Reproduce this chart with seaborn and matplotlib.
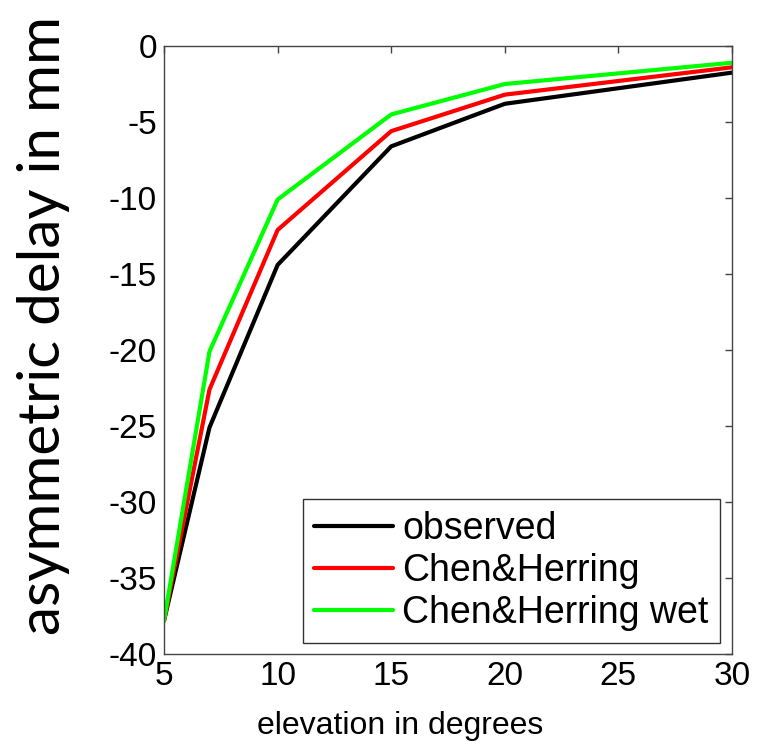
import numpy as np
import pandas as pd
import matplotlib
matplotlib.use("Agg")
import matplotlib.pyplot as plt
import seaborn as sns

# elevation angles (degrees) and asymmetric delays (mm)
elevation = [5, 7, 10, 15, 20, 30]
observed = [-37.8, -25.1, -14.4, -6.6, -3.8, -1.75]
chen_herring = [-37.8, -22.6, -12.1, -5.6, -3.2, -1.4]
chen_herring_wet = [-37.8, -20.1, -10.1, -4.5, -2.5, -1.1]
series_names = ["observed", "Chen&Herring", "Chen&Herring wet"]
series_colors = ["#000000", "#ff0000", "#00ff00"]

x_ticks = [5, 10, 15, 20, 25, 30]
y_ticks = [-40, -35, -30, -25, -20, -15, -10, -5, 0]

df = pd.DataFrame({
    "elevation": elevation * 3,
    "delay": observed + chen_herring + chen_herring_wet,
    "series": sum([[n] * len(elevation) for n in series_names], []),
})

sns.set_theme(style="white")
plt.rcParams["font.family"] = ["Liberation Sans", "DejaVu Sans"]
plt.rcParams["text.color"] = "black"

fig = plt.figure(figsize=(7.58, 7.46), dpi=100)
ax = fig.add_axes([0.2164, 0.1233, 0.7493, 0.815])

sns.lineplot(data=df, x="elevation", y="delay", hue="series",
             hue_order=series_names, palette=dict(zip(series_names, series_colors)),
             linewidth=3.0, ax=ax, sort=False)

ax.set_xlim(5, 30)
ax.set_ylim(-40, 0)
ax.set_xticks(x_ticks)
ax.set_yticks(y_ticks)
ax.set_xticklabels([str(t) for t in x_ticks])
ax.set_yticklabels([str(t) for t in y_ticks])
ax.tick_params(axis="both", which="both", direction="in", length=5, width=1,
               color="#444444", labelsize=24, labelcolor="black",
               top=True, right=True, pad=5)

for s in ax.spines.values():
    s.set_color("#444444")
    s.set_linewidth(1.0)

ax.set_xlabel("elevation in degrees", fontsize=23, color="black")
ax.xaxis.set_label_coords(0.4155, -0.094)
ax.set_ylabel("asymmetric delay in mm", fontsize=42, color="black",
              family=["Lato", "DejaVu Sans"])
ax.yaxis.set_label_coords(-0.1655, 0.540)

leg = ax.legend(loc="lower right", bbox_to_anchor=(0.979, 0.0186), fontsize=27,
                frameon=True, fancybox=False, handlelength=2.1, handletextpad=0.25,
                borderpad=0.3, labelspacing=0.17, borderaxespad=0)
leg.get_frame().set_edgecolor("black")
leg.get_frame().set_linewidth(1.0)
for t in leg.get_texts():
    t.set_color("black")
for h in leg.get_lines():
    h.set_linewidth(3.0)

fig.savefig("out.png", dpi=100)
